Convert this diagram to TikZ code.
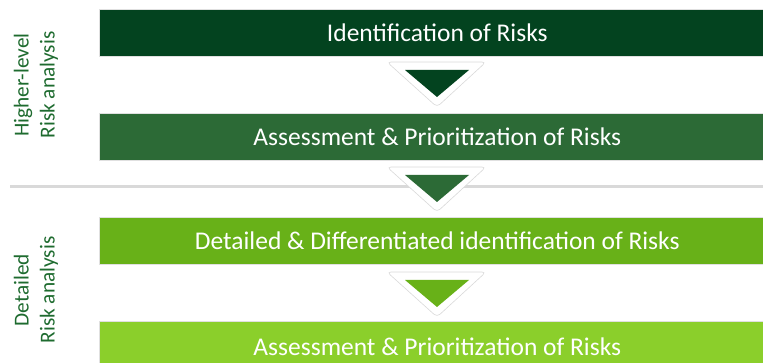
\documentclass[tikz,border=0pt]{standalone}
\usepackage{fontspec}
\setmainfont{Carlito}
\definecolor{cA}{HTML}{03431F}
\definecolor{cB}{HTML}{2C6A36}
\definecolor{cC}{HTML}{68B118}
\definecolor{cD}{HTML}{8BCF2B}
\definecolor{lbl}{HTML}{1E6B2F}
\definecolor{sep}{HTML}{D9D9D9}
\begin{document}
\begin{tikzpicture}[x=1pt,y=-1pt,
  bar/.style={draw=black!12,line width=0.6pt,inner sep=0pt,minimum width=676pt,minimum height=47pt,anchor=north west,text=white,font=\fontsize{25.5}{28}\selectfont},
  sidelbl/.style={rotate=90,text=lbl,align=center,font=\fontsize{21.3}{26}\selectfont},
  pad/.style={fill=white,draw=black!15,line width=0.6pt,rounded corners=4pt},
]
\useasboundingbox (0,0) rectangle (763,363);
\begin{scope}
\clip (0,0) rectangle (763,363);
% separator line
\draw[sep,line width=3pt] (10,187) -- (763,187);
% bars
\node[bar,fill=cA] (b1) at (99,9) {Identification of Risks};
\node[bar,fill=cB] (b2) at (99,113) {Assessment \& Prioritization of Risks};
\node[bar,fill=cC] (b3) at (99,217) {Detailed \& Differentiated identification of Risks};
\node[bar,fill=cD,minimum height=50pt] (b4) at (99,321) {Assessment \& Prioritization of Risks};
% triangles
\foreach \t/\c in {62/cA,167/cB,272/cC}{
  \draw[pad] (387,\t) -- (486,\t) -- (437,\t+45) -- cycle;
  \fill[\c] (405,\t+8) -- (469,\t+8) -- (437,\t+35) -- cycle;
}
\end{scope}
% side labels
\node[sidelbl] (l1) at (36,85) {Higher-level\\Risk analysis};
\node[sidelbl] (l2) at (36,290) {Detailed\\Risk analysis};
\end{tikzpicture}
\end{document}
